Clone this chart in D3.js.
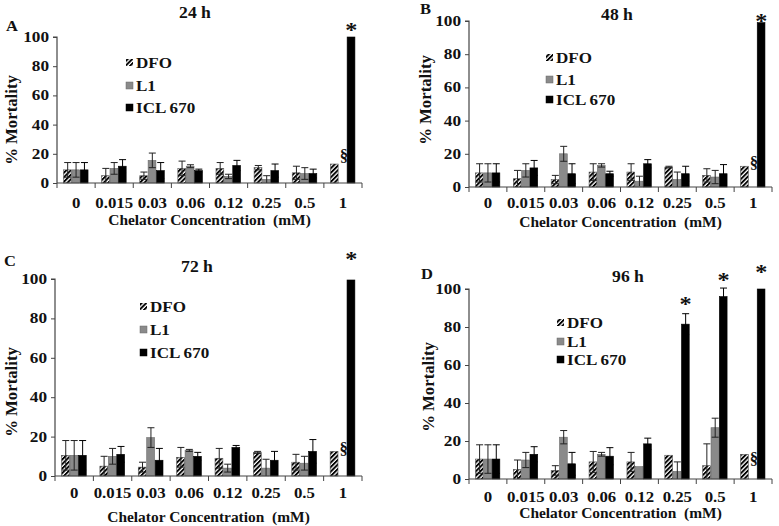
<!DOCTYPE html>
<html><head><meta charset="utf-8">
<script src="https://cdn.jsdelivr.net/npm/d3@7"></script>
<style>
html,body{margin:0;padding:0;background:#fff;}
svg text{font-family:"Liberation Serif","Times New Roman",serif;font-weight:bold;fill:#111;}
</style></head>
<body>
<svg id="c" width="779" height="526"></svg>
<script>
const categories = ["0","0.015","0.03","0.06","0.12","0.25","0.5","1"];
const seriesNames = ["DFO","L1","ICL 670"];
const yTicks = [0,20,40,60,80,100];

// Panel A – 24 h
const dfo24 = [9,5,5,10,10,10.5,7,13];
const dfo24Err = [5,5,2.5,5,4,1.5,4.5,0];
const l1_24 = [9,10,15.5,11.5,4.5,2.5,6.5,0];
const l1_24Err = [5,4,5,1,1.5,2.5,4,0];
const icl24 = [9,11.5,8.5,8.5,12,8.5,6.5,100];
const icl24Err = [5,4.5,5.5,1,3.5,4.5,3,0];

// Panel B – 48 h
const dfo48 = [8.5,5,4.5,9,9,12,7,12.5];
const dfo48Err = [5.5,5,2.5,5,5,0.5,4,0];
const l1_48 = [8.5,10,20,13,3.5,4.5,6,0];
const l1_48Err = [5.5,4,4.5,1,3,4.5,4,0];
const icl48 = [8.5,11.5,8,8,14,8,8,99];
const icl48Err = [5.5,4.5,6,1.5,2.5,4.5,5.5,0];

// Panel C – 72 h
const dfo72 = [10.5,5,4.5,9.5,9,12,7,12.5];
const dfo72Err = [7.5,5,2.5,5,5,0.5,4,0];
const l1_72 = [10.5,10,19.5,13,4,4,6.5,0];
const l1_72Err = [7.5,4,5,0.5,2,4.5,3.5,0];
const icl72 = [10.5,11,8,10,14.5,8,12.5,99.5];
const icl72Err = [7.5,4,6,2,1,4.5,6,0];

// Panel D – 96 h
const dfo96 = [10.5,5,4.5,9,9,12.5,7,13];
const dfo96Err = [7.5,5,2.5,5.5,5,0,11.5,0];
const l1_96 = [10.5,10,22,13,6.5,4,27,0];
const l1_96Err = [7.5,4,3.5,1,0,5,5,0];
const icl96 = [10.5,13,8,12,18.5,81.5,96,100];
const icl96Err = [7.5,4,6,4.5,3,5.5,4.5,0];

// significance marks: [categoryIndex, y-value]
const stars24 = [[7,106]];
const stars48 = [[7,101]];
const stars72 = [[7,111]];
const stars96 = [[5,93],[6,106],[7,110]];
const sect24 = [[7,19]];
const sect48 = [[7,15]];
const sect72 = [[7,14]];
const sect96 = [[7,11]];

const svg = d3.select("#c");
const defs = svg.append("defs");
const P = 3.2;
const pat = defs.append("pattern").attr("id","hatch").attr("patternUnits","userSpaceOnUse")
  .attr("width",P).attr("height",P).attr("patternTransform","rotate(45)");
pat.append("rect").attr("width",P).attr("height",P).attr("fill","#fff");
pat.append("rect").attr("x",0).attr("y",0).attr("width",1.9).attr("height",P).attr("fill","#000");

const fills = ["url(#hatch)","#8a8a8a","#000"];
const strokes = ["#555","#6a6a6a","#000"];

// text helper with slight horizontal stretch (reference type is wide)
function txt(g, x, y, s, size, anchor, sx) {
  return g.append("text")
    .attr("transform", `translate(${x},${y}) scale(${sx||1.12},1)`)
    .attr("text-anchor", anchor || "start")
    .style("font-size", size + "px")
    .attr("xml:space","preserve")
    .text(s);
}

const panels = [
  {title:"24 h", letter:"A", left:57, right:362, top:37, bottom:183,
   titleX:195, titleY:18, letterX:6, letterY:31, legX:126, legY:[63,86,108],
   ylabX:17, ylabY:120, tickY:208, xtitleY:225,
   data:[[dfo24,dfo24Err],[l1_24,l1_24Err],[icl24,icl24Err]], stars:stars24, sect:sect24},
  {title:"48 h", letter:"B", left:469, right:772, top:21, bottom:187,
   titleX:617, titleY:20, letterX:420, letterY:14, legX:546, legY:[58,80,100],
   ylabX:431, ylabY:100, tickY:208, xtitleY:227,
   data:[[dfo48,dfo48Err],[l1_48,l1_48Err],[icl48,icl48Err]], stars:stars48, sect:sect48},
  {title:"72 h", letter:"C", left:55, right:362, top:279, bottom:476,
   titleX:197, titleY:272, letterX:4, letterY:266, legX:140, legY:[307,330,353],
   ylabX:17, ylabY:392, tickY:498, xtitleY:522,
   data:[[dfo72,dfo72Err],[l1_72,l1_72Err],[icl72,icl72Err]], stars:stars72, sect:sect72},
  {title:"96 h", letter:"D", left:469, right:772, top:289, bottom:479,
   titleX:628, titleY:282, letterX:421, letterY:279, legX:557, legY:[323,342,360],
   ylabX:434, ylabY:387, tickY:502, xtitleY:518,
   data:[[dfo96,dfo96Err],[l1_96,l1_96Err],[icl96,icl96Err]], stars:stars96, sect:sect96}
];

panels.forEach(p => {
  const g = svg.append("g");
  const x = d3.scaleBand().domain(categories).range([p.left,p.right]).paddingInner(0).paddingOuter(0);
  const inner = d3.scaleBand().domain([0,1,2]).range([0, x.bandwidth()*0.66]).padding(0);
  const off = x.bandwidth()*0.17;
  const y = d3.scaleLinear().domain([0,100]).range([p.bottom,p.top]);

  // bars
  p.data.forEach((s,si) => {
    const [vals, errs] = s;
    g.selectAll(null).data(categories.map((c,i)=>({c,v:vals[i],e:errs[i]})).filter(d=>d.v>0))
      .enter().append("rect")
      .attr("x", d => x(d.c)+off+inner(si))
      .attr("width", inner.bandwidth()-0.6)
      .attr("y", d => y(d.v))
      .attr("height", d => y(0)-y(d.v))
      .attr("fill", fills[si]).attr("stroke", strokes[si]).attr("stroke-width",0.6);
  });
  // error bars
  p.data.forEach((s,si) => {
    const [vals, errs] = s;
    const ed = categories.map((c,i)=>({c,v:vals[i],e:errs[i]})).filter(d=>d.e>0);
    const cx = d => x(d.c)+off+inner(si)+inner.bandwidth()/2;
    const eg = g.append("g").attr("stroke", si===2 ? "#000" : "#222").attr("stroke-width",1);
    eg.selectAll(null).data(ed).enter().append("line")
      .attr("x1",cx).attr("x2",cx).attr("y1",d=>y(d.v+d.e)).attr("y2",d=>y(Math.max(0,d.v-d.e)));
    eg.selectAll(null).data(ed).enter().append("line")
      .attr("x1",d=>cx(d)-3.5).attr("x2",d=>cx(d)+3.5).attr("y1",d=>y(d.v+d.e)).attr("y2",d=>y(d.v+d.e));
    eg.selectAll(null).data(ed.filter(d=>d.v-d.e>0.5)).enter().append("line")
      .attr("x1",d=>cx(d)-3.5).attr("x2",d=>cx(d)+3.5).attr("y1",d=>y(d.v-d.e)).attr("y2",d=>y(d.v-d.e));
  });

  // y axis
  const ya = g.append("g").attr("transform",`translate(${p.left},0)`)
    .call(d3.axisLeft(y).tickValues(yTicks).tickSize(4).tickFormat(""));
  ya.select(".domain").attr("stroke","#444").attr("stroke-width",1.2).attr("d",`M-4,${p.top}H0V${p.bottom}`);
  ya.selectAll(".tick line").attr("stroke","#444");
  yTicks.forEach(t => txt(g, p.left-8, y(t)+5, String(t), 15, "end", 1.15));

  // x axis
  const xa = g.append("g").attr("transform",`translate(0,${p.bottom})`);
  xa.append("line").attr("x1",p.left).attr("x2",p.right).attr("y1",0).attr("y2",0).attr("stroke","#444").attr("stroke-width",1.2);
  xa.selectAll(null).data(categories.concat(["end"])).enter().append("line")
    .attr("x1",(d,i)=>p.left+i*x.bandwidth()).attr("x2",(d,i)=>p.left+i*x.bandwidth())
    .attr("y1",0).attr("y2",5).attr("stroke","#444");
  categories.forEach(c => txt(g, x(c)+x.bandwidth()/2, p.tickY, c, 15, "middle", 1.12));

  // titles
  txt(g, p.titleX, p.titleY, p.title, 16, "middle", 1.1);
  txt(g, p.letterX, p.letterY, p.letter, 15, "start", 1.1);
  txt(g, (p.left+p.right)/2, p.xtitleY, "Chelator Concentration  (mM)", 15, "middle", 1.03);
  g.append("text").attr("transform",`translate(${p.ylabX},${p.ylabY}) rotate(-90) scale(1.08,1.12)`).attr("text-anchor","middle")
    .style("font-size","15.5px").text("% Mortality");

  // legend
  seriesNames.forEach((n,i) => {
    g.append("rect").attr("x",p.legX).attr("y",p.legY[i]-4).attr("width",7).attr("height",7)
      .attr("fill",fills[i]).attr("stroke",i===0?"none":strokes[i]).attr("stroke-width",0.5);
    txt(g, p.legX+10, p.legY[i]+5, n, 15.5, "start", 1.1);
  });

  // significance marks
  const iclX = c => x(categories[c])+off+inner(2)+inner.bandwidth()/2;
  const l1X = c => x(categories[c])+off+inner(1)+inner.bandwidth()/2;
  p.stars.forEach(d => txt(g, iclX(d[0]), y(d[1])+9, "*", 22, "middle", 1.1));
  p.sect.forEach(d => txt(g, l1X(d[0])+1, y(d[1])+6, "§", 16, "middle", 1.05));
});
</script>
</body></html>
